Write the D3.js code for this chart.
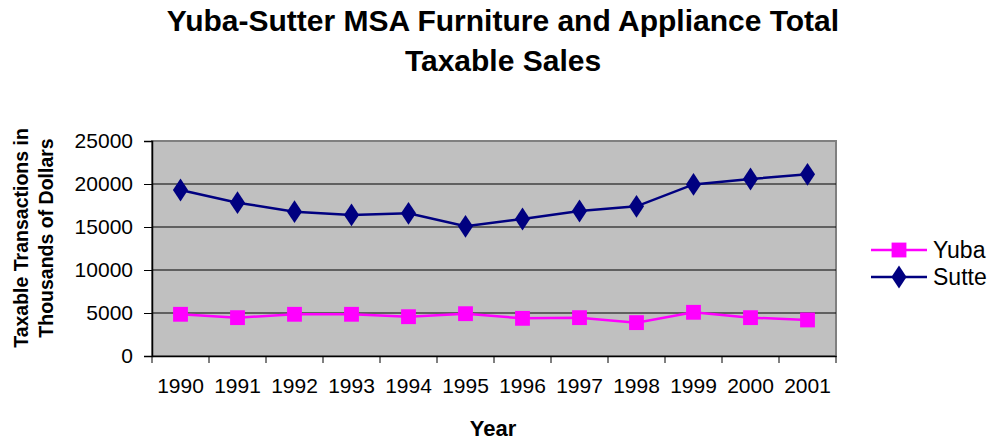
<!DOCTYPE html>
<html>
<head>
<meta charset="utf-8">
<title>Yuba-Sutter MSA Furniture and Appliance</title>
<style>
    body { margin: 0; background: #fff; }
    text { font-family: "Liberation Sans", Arial, sans-serif; fill: #000; }
</style>
</head>
<body>
<svg width="997" height="441"></svg>
<script src="https://d3js.org/d3.v7.min.js"></script>
<script>
const years = ["1990", "1991", "1992", "1993", "1994", "1995", "1996", "1997", "1998", "1999", "2000", "2001"];
const yuba = [4850, 4460, 4850, 4850, 4570, 4920, 4380, 4460, 3880, 5080, 4460, 4190];
const sutte = [19300, 17830, 16780, 16400, 16590, 15080, 15930, 16860, 17400, 19950, 20580, 21120];
const yTicks = [0, 5000, 10000, 15000, 20000, 25000];

const svg = d3.select("svg");
const plot = { left: 152, right: 836, top: 141, bottom: 356 };
const font = "Liberation Sans, Arial, sans-serif";

const x = d3.scaleBand().domain(years).range([plot.left, plot.right]);
const y = d3.scaleLinear().domain([0, 25000]).range([plot.bottom, plot.top]);

// plot area
svg.append("rect")
    .attr("x", plot.left).attr("y", plot.top)
    .attr("width", plot.right - plot.left).attr("height", plot.bottom - plot.top)
    .attr("fill", "#c0c0c0").attr("stroke", "#808080").attr("stroke-width", 2);

// gridlines
svg.append("g").selectAll("line")
    .data(yTicks.filter(d => d > 0 && d < 25000))
    .join("line")
    .attr("x1", plot.left).attr("x2", plot.right)
    .attr("y1", d => y(d)).attr("y2", d => y(d))
    .attr("stroke", "#000").attr("stroke-width", 1);

// axes
const yAxis = svg.append("g")
    .attr("transform", `translate(${plot.left},0)`)
    .call(d3.axisLeft(y).tickValues(yTicks).tickSize(8).tickPadding(11).tickFormat(d3.format("d")));
yAxis.select(".domain").attr("stroke", "#000").attr("stroke-width", 1.5);
yAxis.selectAll("text").attr("font-size", 21).attr("font-family", font);

const xAxis = svg.append("g")
    .attr("transform", `translate(0,${plot.bottom})`)
    .call(d3.axisBottom(x).tickSize(0).tickPadding(22));
xAxis.select(".domain").attr("stroke", "#000").attr("stroke-width", 1.5);
xAxis.selectAll("text").attr("font-size", 21).attr("font-family", font);

// category boundary ticks
svg.append("g").selectAll("line")
    .data(years.concat(["end"]))
    .join("line")
    .attr("x1", (d, i) => plot.left + i * x.step())
    .attr("x2", (d, i) => plot.left + i * x.step())
    .attr("y1", plot.bottom).attr("y2", plot.bottom + 7)
    .attr("stroke", "#000").attr("stroke-width", 1);

const cx = d => x(d) + x.bandwidth() / 2;
const line = d3.line().x(d => cx(d.year)).y(d => y(d.value));

const series = [
    { name: "Sutte", values: sutte, color: "#000080", symbol: d3.symbolDiamond, size: 150, ly: 277 },
    { name: "Yuba", values: yuba, color: "#ff00ff", symbol: d3.symbolSquare, size: 220, ly: 250 }
];

series.forEach(s => {
    const pts = years.map((yr, i) => ({ year: yr, value: s.values[i] }));
    const stretch = s.symbol === d3.symbolDiamond ? " scale(1.15,1)" : "";
    svg.append("path").datum(pts)
        .attr("d", line).attr("fill", "none")
        .attr("stroke", s.color).attr("stroke-width", 2.5);
    svg.append("g").selectAll("path")
        .data(pts)
        .join("path")
        .attr("transform", d => `translate(${cx(d.year)},${y(d.value)})` + stretch)
        .attr("d", d3.symbol(s.symbol, s.size))
        .attr("fill", s.color);

    // legend
    svg.append("line")
        .attr("x1", 871).attr("x2", 927).attr("y1", s.ly).attr("y2", s.ly)
        .attr("stroke", s.color).attr("stroke-width", 2.5);
    svg.append("path")
        .attr("transform", `translate(899,${s.ly})` + stretch)
        .attr("d", d3.symbol(s.symbol, s.size))
        .attr("fill", s.color);
    svg.append("text")
        .attr("x", 933).attr("y", s.ly + 8)
        .attr("font-size", 23)
        .text(s.name);
});

// titles
const title = svg.append("text")
    .attr("text-anchor", "middle")
    .attr("font-size", 30).attr("font-weight", "bold");
title.append("tspan").attr("x", 503).attr("y", 31).text("Yuba-Sutter MSA Furniture and Appliance Total");
title.append("tspan").attr("x", 503).attr("y", 71).text("Taxable Sales");

svg.append("text")
    .attr("x", 493).attr("y", 436).attr("text-anchor", "middle")
    .attr("font-size", 22).attr("font-weight", "bold")
    .text("Year");

const yl = svg.append("text")
    .attr("transform", "translate(0,238) rotate(-90)")
    .attr("text-anchor", "middle")
    .attr("font-size", 19.5).attr("font-weight", "bold");
yl.append("tspan").attr("x", 0).attr("y", 28).text("Taxable Transactions in");
yl.append("tspan").attr("x", 0).attr("y", 53).text("Thousands of Dollars");
</script>
</body>
</html>
